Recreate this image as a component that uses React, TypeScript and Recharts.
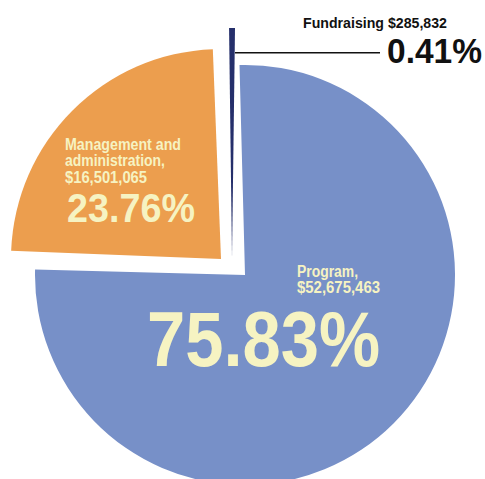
import React from 'react';
import { PieChart, Pie, Cell } from 'recharts';

const categories = ['Program', 'Management and administration', 'Fundraising'];
const amounts = [52675463, 16501065, 285832];
const colors = ['#7790C8', '#EC9E4E', '#252F6B'];

const total = amounts.reduce((a, b) => a + b, 0);
const data = categories.map((name, i) => ({ name, value: amounts[i] }));
const pct = (i: number) => ((amounts[i] / total) * 100).toFixed(2) + '%';
const money = (i: number) => '$' + amounts[i].toLocaleString('en-US');

const FONT = "'Liberation Sans Narrow', 'Liberation Sans', Arial, sans-serif";
const CREAM = '#F6F3C2';

const T = (props: any) => (
  <text
    fontFamily={FONT}
    fontWeight={700}
    lengthAdjust="spacingAndGlyphs"
    textAnchor="start"
    {...props}
  />
);

const isIdx = (p: any, i: number) =>
  p.index === i || (p.index === undefined && (p.name === categories[i] || p.payload?.name === categories[i]));

const programLabel = (p: any) => {
  if (!isIdx(p, 0)) return null;
  const { cx, cy } = p;
  return (
    <g>
      <T x={cx + 52} y={cy + 2} fontSize={16} fill={CREAM} textLength={61}>{categories[0] + ','}</T>
      <T x={cx + 52} y={cy + 18} fontSize={16} fill={CREAM} textLength={83}>{money(0)}</T>
      <T x={cx - 98} y={cy + 91} fontSize={77} fill={CREAM} textLength={233}>{pct(0)}</T>
    </g>
  );
};

const mgmtLabel = (p: any) => {
  if (!isIdx(p, 1)) return null;
  const { cx, cy } = p;
  return (
    <g>
      <T x={cx - 156} y={cy - 109} fontSize={16} fill={CREAM} textLength={116}>Management and</T>
      <T x={cx - 156} y={cy - 93} fontSize={16} fill={CREAM} textLength={100}>administration,</T>
      <T x={cx - 156} y={cy - 76} fontSize={16} fill={CREAM} textLength={82}>{money(1)}</T>
      <T x={cx - 154} y={cy - 37} fontSize={40} fill={CREAM} textLength={128}>{pct(1)}</T>
    </g>
  );
};

const fundLabel = (p: any) => {
  if (!isIdx(p, 2)) return null;
  const { cx, cy } = p;
  return (
    <g>
      <line x1={cx + 3} y1={cy - 205.3} x2={cx + 148} y2={cy - 205.3} stroke="#111" strokeWidth={1.4} />
      <T x={cx + 71} y={cy - 230} fontSize={15} fill="#111" textLength={144}>{categories[2] + ' ' + money(2)}</T>
      <T x={cx + 155} y={cy - 195} fontSize={35} fill="#111" textLength={95}>{pct(2)}</T>
    </g>
  );
};

export default function App() {
  return (
    <div style={{ position: 'absolute', left: 0, top: 0, width: 485, height: 479, background: '#fff', overflow: 'hidden' }}>
      <PieChart width={485} height={479} margin={{ top: 0, right: 0, bottom: 0, left: 0 }}>
        <Pie
          data={data}
          dataKey="value"
          nameKey="name"
          cx={245}
          cy={275}
          outerRadius={210}
          startAngle={91.5}
          endAngle={-268.5}
          isAnimationActive={false}
          label={programLabel}
          labelLine={false}
          stroke="none"
        >
          {data.map((d, i) => (
            <Cell key={d.name} fill={i === 0 ? colors[0] : 'transparent'} stroke="none" />
          ))}
        </Pie>
        <Pie
          data={data}
          dataKey="value"
          nameKey="name"
          cx={221}
          cy={259}
          outerRadius={210}
          startAngle={90.75}
          endAngle={-269.25}
          isAnimationActive={false}
          label={mgmtLabel}
          labelLine={false}
          stroke="none"
        >
          {data.map((d, i) => (
            <Cell key={d.name} fill={i === 1 ? colors[1] : 'transparent'} stroke="none" />
          ))}
        </Pie>
        <Pie
          data={data}
          dataKey="value"
          nameKey="name"
          cx={232}
          cy={258}
          outerRadius={230}
          startAngle={89.25}
          endAngle={-270.75}
          isAnimationActive={false}
          label={fundLabel}
          labelLine={false}
          stroke="none"
        >
          {data.map((d, i) => (
            <Cell key={d.name} fill={i === 2 ? colors[2] : 'transparent'} stroke="none" />
          ))}
        </Pie>
      </PieChart>
    </div>
  );
}
